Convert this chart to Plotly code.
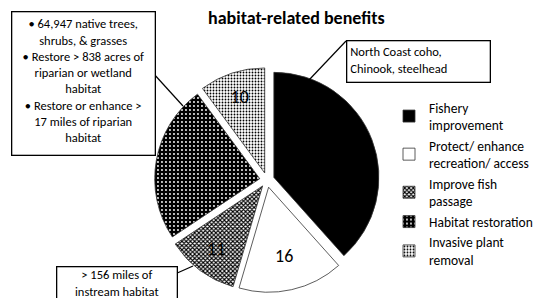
import plotly.graph_objects as go

categories = ["Fishery<br>improvement", "Protect/ enhance<br>recreation/ access",
              "Improve fish<br>passage", "Habitat restoration", "Invasive plant<br>removal"]
values = [38, 16, 11, 24, 10]

FONT = "Carlito, Lato, sans-serif"
W, H = 550, 298

def px(x):
    return x / W

def py(y):
    return 1 - y / H

fig = go.Figure()
fig.add_trace(go.Pie(
    labels=categories,
    values=values,
    sort=False,
    direction="clockwise",
    rotation=0,
    pull=[0.07] * 5,
    textinfo="value",
    textposition="inside",
    insidetextorientation="horizontal",
    textfont=dict(family=FONT, size=18,
                  color=["black", "black", "black", "rgba(0,0,0,0)", "black"]),
    marker=dict(
        colors=["black", "white", "white", "black", "white"],
        line=dict(color="#333333", width=0.8),
        pattern=dict(
            shape=["", "", "x", ".", "."],
            fgcolor=["black", "black", "black", "white", "black"],
            bgcolor=["black", "white", "white", "black", "white"],
            size=[4, 4, 3, 4, 3],
            solidity=[0.3, 0.3, 0.6, 0.18, 0.3],
            fillmode="replace",
        ),
    ),
    domain=dict(x=[px(146.6), px(371.4)], y=[py(284.4), py(59.6)]),
    hoverinfo="label+value",
))

# Callout boxes
fig.add_annotation(
    x=px(3), y=py(3), xref="paper", yref="paper", xanchor="left", yanchor="top",
    text=("• 64,947 native trees,<br>shrubs, & grasses<br>• Restore > 838 acres of<br>"
          "riparian or wetland<br>habitat<br>• Restore or enhance ><br>17 miles of riparian<br>habitat"),
    showarrow=False, align="center", valign="top", width=134, height=134,
    bordercolor="black", borderwidth=1.3, borderpad=4, bgcolor="white",
    font=dict(family=FONT, size=12.5, color="black"),
)
fig.add_annotation(
    x=px(338), y=py(32), xref="paper", yref="paper", xanchor="left", yanchor="top",
    text="North Coast coho,<br>Chinook, steelhead",
    showarrow=False, align="left", valign="top", width=136, height=34,
    bordercolor="black", borderwidth=1.3, borderpad=3, bgcolor="white",
    font=dict(family=FONT, size=12.5, color="black"),
)
fig.add_annotation(
    x=px(48), y=py(258), xref="paper", yref="paper", xanchor="left", yanchor="top",
    text="> 156 miles of<br>instream habitat",
    showarrow=False, align="center", valign="top", width=119, height=50,
    bordercolor="black", borderwidth=1.3, borderpad=0, bgcolor="white",
    font=dict(family=FONT, size=12.5, color="black"),
)

# Connector lines
for (x0, y0, x1, y1) in [(145, 65, 175, 98), (338, 33, 301, 72), (167, 266, 185, 258)]:
    fig.add_shape(type="line", xref="paper", yref="paper",
                  x0=px(x0), y0=py(y0), x1=px(x1), y1=py(y1),
                  line=dict(color="black", width=1.2))

# Title (visible part)
fig.add_annotation(
    x=px(288), y=py(10), xref="paper", yref="paper", xanchor="center", yanchor="middle",
    text="<b>habitat-related benefits</b>", showarrow=False,
    font=dict(family=FONT, size=18, color="black"),
)

fig.update_layout(
    width=W, height=H,
    margin=dict(l=0, r=0, t=0, b=0),
    paper_bgcolor="white", plot_bgcolor="white",
    font=dict(family=FONT, color="black"),
    showlegend=True,
    legend=dict(
        x=px(381), y=py(84), xanchor="left", yanchor="top",
        font=dict(family=FONT, size=13.5, color="black"),
        tracegroupgap=0, itemclick=False,
        bgcolor="rgba(0,0,0,0)",
    ),
)

fig.write_html("out.html")
